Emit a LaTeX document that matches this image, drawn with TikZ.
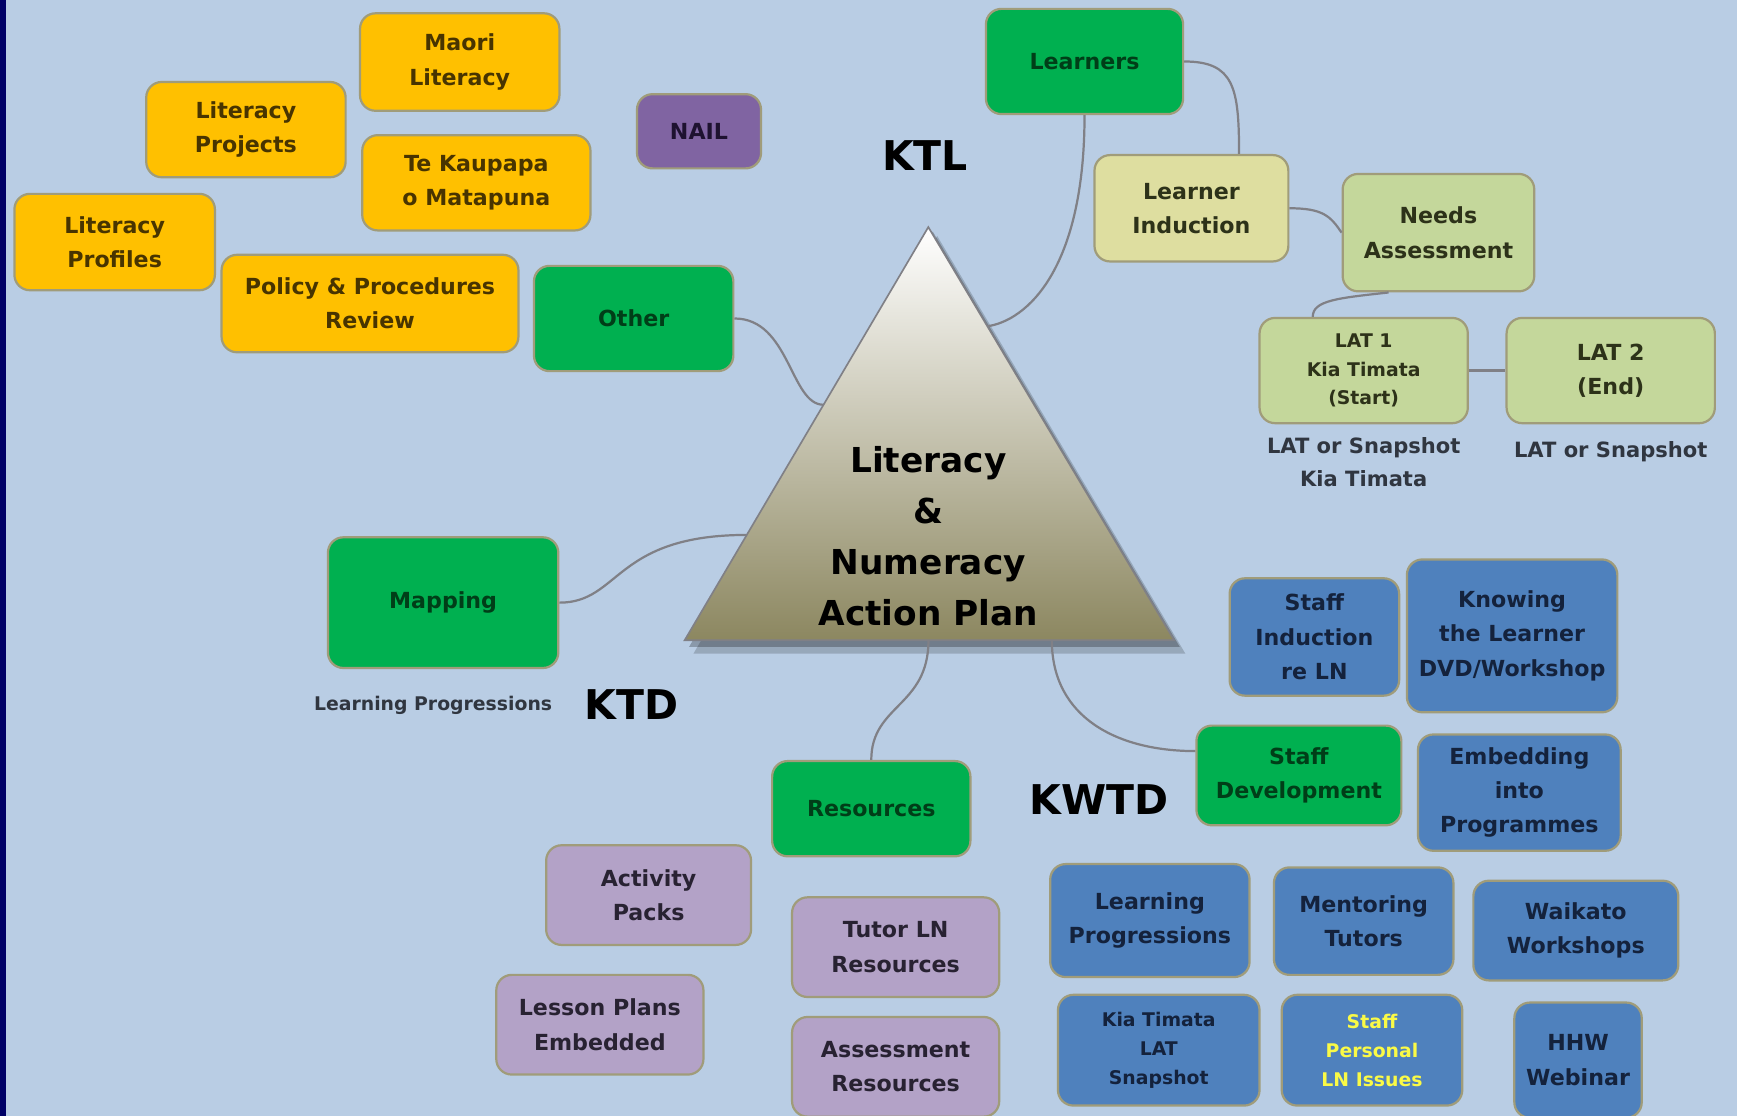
\documentclass[tikz,border=0pt]{standalone}
\usepackage{fontspec}
\setmainfont{DejaVu Sans}
\usetikzlibrary{positioning,calc}

\definecolor{bgblue}{RGB}{185,205,228}
\definecolor{strip}{RGB}{0,0,102}
\definecolor{edge}{RGB}{160,156,122}
\definecolor{linkgray}{RGB}{128,128,134}
\definecolor{gold}{RGB}{255,192,0}
\definecolor{goldtext}{RGB}{72,52,0}
\definecolor{leaf}{RGB}{0,176,80}
\definecolor{leaftext}{RGB}{0,62,24}
\definecolor{nailpurple}{RGB}{128,100,162}
\definecolor{nailtext}{RGB}{30,18,48}
\definecolor{cream}{RGB}{222,222,160}
\definecolor{pale}{RGB}{196,215,155}
\definecolor{paletext}{RGB}{45,50,25}
\definecolor{steel}{RGB}{79,129,189}
\definecolor{steeltext}{RGB}{20,34,60}
\definecolor{lilac}{RGB}{179,162,199}
\definecolor{lilactext}{RGB}{40,34,50}
\definecolor{notegray}{RGB}{48,54,64}
\definecolor{tribottom}{RGB}{140,135,96}
\definecolor{flash}{RGB}{250,250,70}

\begin{document}
\begin{tikzpicture}[x=1pt, y=1pt,
    box/.style={draw=edge, line width=2pt, rounded corners=14pt, align=center, inner sep=2pt,
      font=\bfseries\fontsize{20}{31}\selectfont},
    smalltext/.style={font=\bfseries\fontsize{17}{26}\selectfont},
    yellowbox/.style={box, fill=gold, text=goldtext},
    greenbox/.style={box, fill=leaf, text=leaftext},
    purplebox/.style={box, fill=nailpurple, text=nailtext},
    creambox/.style={box, fill=cream, text=paletext},
    palebox/.style={box, fill=pale, text=paletext},
    bluebox/.style={box, fill=steel, text=steeltext},
    lilacbox/.style={box, fill=lilac, text=lilactext},
    link/.style={draw=linkgray, line width=2pt},
    big/.style={font=\bfseries\fontsize{37}{40}\selectfont, text=black},
    note/.style={align=center, text=notegray, font=\bfseries\fontsize{19}{30}\selectfont}]

  \clip (0,0) rectangle (1568,-1007);
  \fill[bgblue] (0,0) rectangle (1568,-1007);
  \fill[strip] (0,0) rectangle (5,-1007);

  \coordinate (apex) at (838,-205);
  \coordinate (bl) at (618,-578);
  \coordinate (br) at (1060,-578);
  \fill[black, opacity=.18] ($(apex)+(8,-8)$) -- ($(bl)+(8,-12)$) -- ($(br)+(10,-12)$) -- cycle;
  \fill[black, opacity=.25] ($(apex)+(4,-4)$) -- ($(bl)+(4,-6)$) -- ($(br)+(5,-6)$) -- cycle;
  \shade[top color=white, middle color=tribottom!40!white, bottom color=tribottom, draw=linkgray, line width=1.5pt]
    (apex) -- (bl) -- (br) -- cycle;
  \node[align=center, text=black, font=\bfseries\fontsize{31}{46}\selectfont] (plan) at (838,-484)
    {Literacy\\\&\\Numeracy\\Action Plan};

  \coordinate (t_r) at ($(apex)!0.24!(br)$);
  \coordinate (t_l1) at ($(apex)!0.43!(bl)$);
  \coordinate (t_l2) at ($(apex)!0.745!(bl)$);
  \coordinate (b_1) at ($(bl)!0.498!(br)$);
  \coordinate (b_2) at ($(bl)!0.75!(br)$);

  \node[yellowbox, minimum width=180pt, minimum height=88pt] (maori) at (415,-56) {Maori\\Literacy};
  \node[yellowbox, minimum width=180pt, minimum height=86pt] (projects) at (222,-117) {Literacy\\Projects};
  \node[yellowbox, minimum width=206pt, minimum height=86pt] (kaupapa) at (430,-165) {Te Kaupapa\\o Matapuna};
  \node[yellowbox, minimum width=181pt, minimum height=87pt] (profiles) at (103.5,-218.5) {Literacy\\Profiles};
  \node[yellowbox, minimum width=268pt, minimum height=88pt] (policy) at (334,-274) {Policy \& Procedures\\Review};
  \node[purplebox, minimum width=112pt, minimum height=67pt] (nail) at (631,-118.5) {NAIL};

  \node[greenbox, minimum width=178pt, minimum height=95pt] (learners) at (979,-55.5) {Learners};
  \node[greenbox, minimum width=180pt, minimum height=95pt] (other) at (572,-287.5) {Other};
  \node[greenbox, minimum width=208pt, minimum height=118pt] (mapping) at (400,-544) {Mapping};
  \node[greenbox, minimum width=179pt, minimum height=86pt] (resources) at (786.5,-730) {Resources};
  \node[greenbox, minimum width=185pt, minimum height=90pt] (staffdev) at (1172.5,-700) {Staff\\Development};

  \node[creambox, minimum width=175pt, minimum height=96pt] (induction) at (1075.5,-188) {Learner\\Induction};
  \node[palebox, minimum width=173pt, minimum height=106pt] (needs) at (1298.5,-210) {Needs\\Assessment};
  \node[palebox, smalltext, minimum width=188pt, minimum height=95pt] (lat_1) at (1231,-334.5) {LAT 1\\Kia Timata\\(Start)};
  \node[palebox, minimum width=188pt, minimum height=95pt] (lat_2) at (1454,-334.5) {LAT 2\\(End)};
  \node[note, below=8pt of lat_1] (lat_1_note) {LAT or Snapshot\\Kia Timata};
  \node[note, below=12pt of lat_2] (lat_2_note) {LAT or Snapshot};

  \node[bluebox, minimum width=153pt, minimum height=106pt] (staffind) at (1186.5,-575) {Staff\\Induction\\re LN};
  \node[bluebox, minimum width=190pt, minimum height=138pt] (knowing) at (1365,-574) {Knowing\\the Learner\\DVD/Workshop};
  \node[bluebox, minimum width=183pt, minimum height=105pt] (embedding) at (1371.5,-715.5) {Embedding\\into\\Programmes};
  \node[bluebox, minimum width=180pt, minimum height=102pt] (learnprog) at (1038,-831) {Learning\\Progressions};
  \node[bluebox, minimum width=162pt, minimum height=97pt] (mentoring) at (1231,-831.5) {Mentoring\\Tutors};
  \node[bluebox, minimum width=185pt, minimum height=90pt] (waikato) at (1422.5,-840) {Waikato\\Workshops};
  \node[bluebox, smalltext, minimum width=182pt, minimum height=100pt] (kiatimata) at (1046,-948) {Kia Timata\\LAT\\Snapshot};
  \node[bluebox, smalltext, text=flash, minimum width=163pt, minimum height=100pt] (personal) at (1238.5,-948) {Staff\\Personal\\LN Issues};
  \node[bluebox, minimum width=115pt, minimum height=104pt] (hhw) at (1424.5,-957) {HHW\\Webinar};

  \node[lilacbox, minimum width=185pt, minimum height=90pt] (activity) at (585.5,-808) {Activity\\Packs};
  \node[lilacbox, minimum width=187pt, minimum height=90pt] (tutorln) at (808.5,-855) {Tutor LN\\Resources};
  \node[lilacbox, minimum width=187pt, minimum height=90pt] (lesson) at (541.5,-925) {Lesson Plans\\Embedded};
  \node[lilacbox, minimum width=187pt, minimum height=90pt] (assess) at (808.5,-963) {Assessment\\Resources};

  \node[big] (ktl) at (835,-140) {KTL};
  \node[big] (ktd) at (570,-636) {KTD};
  \node[big] (kwtd) at (992,-722) {KWTD};
  \node[note, font=\bfseries\fontsize{17}{20}\selectfont] (mapping_note) at (391,-637) {Learning Progressions};

  \draw[link] (learners.south) .. controls +(0,-140) and +(35,5) .. (t_r);
  \draw[link] (learners.east) .. controls +(45,0) and +(0,60) .. ([xshift=43pt]induction.north);
  \draw[link] (induction.east) .. controls +(30,0) and +(-10,15) .. (needs.west);
  \draw[link] ([xshift=-45pt]needs.south) .. controls +(-45,-5) and +(0,15) .. ([xshift=-46pt]lat_1.north);
  \draw[link] (lat_1.east) -- (lat_2.west);
  \draw[link] (other.east) .. controls +(50,0) and +(-30,0) .. (t_l1);
  \draw[link] (mapping.east) .. controls +(55,0) and +(-120,0) .. (t_l2);
  \draw[link] (b_1) .. controls +(0,-60) and +(0,50) .. (resources.north);
  \draw[link] (b_2) .. controls +(0,-70) and +(-70,0) .. ([yshift=22pt]staffdev.west);
\end{tikzpicture}
\end{document}
